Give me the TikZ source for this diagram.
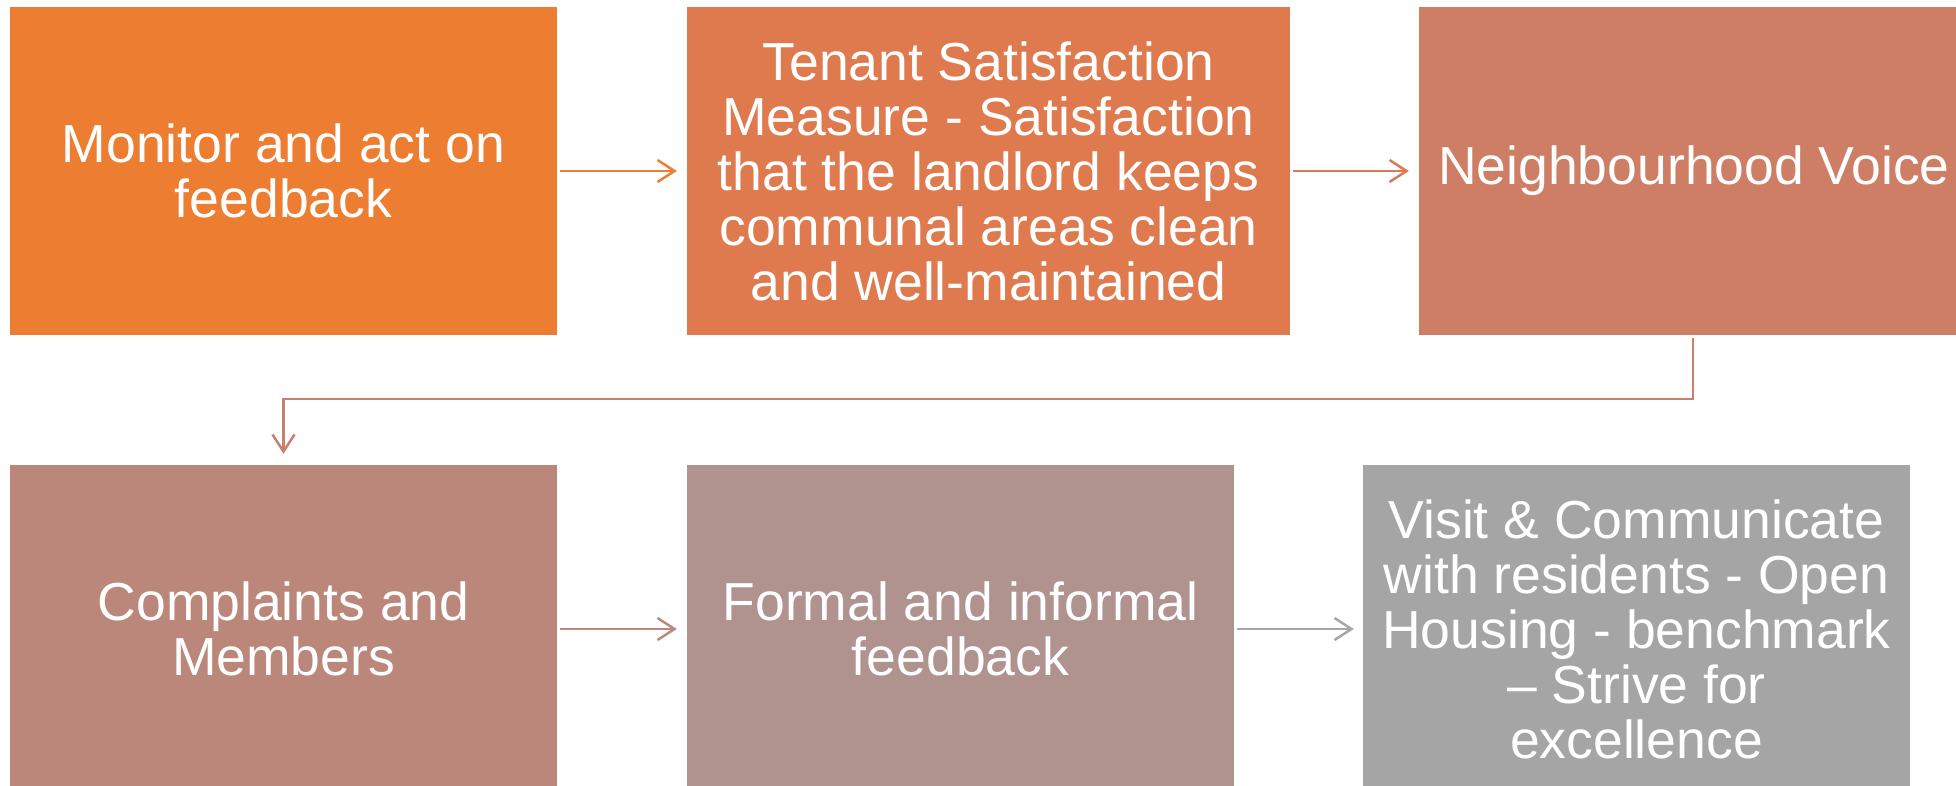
\documentclass[tikz,border=0pt]{standalone}
\usepackage{fontspec}
\setmainfont{Liberation Sans}
\usetikzlibrary{arrows.meta}
\definecolor{cA}{HTML}{ED7D31}
\definecolor{cB}{HTML}{DE7A4E}
\definecolor{cC}{HTML}{CE7E65}
\definecolor{cD}{HTML}{BC877B}
\definecolor{cE}{HTML}{B0928F}
\definecolor{cF}{HTML}{A5A5A5}
\definecolor{aA}{HTML}{EE7E32}
\definecolor{aB}{HTML}{D87C58}
\definecolor{aC}{HTML}{C8806F}
\definecolor{aD}{HTML}{BA8A80}
\definecolor{aE}{HTML}{ABA5A5}
\tikzset{
  box/.style={rectangle, inner sep=0pt, text=white, align=center,
    minimum height=328pt, font=\fontsize{53.5}{55}\selectfont},
  arr/.style={line width=2.5pt, -{Straight Barb[length=17pt,width=22pt,line width=2.5pt]}}
}
\begin{document}
\begin{tikzpicture}[x=1pt,y=-1pt]
\useasboundingbox (0,0) rectangle (1956,786);
\fill[white] (0,0) rectangle (1956,786);
\begin{scope}
\clip (0,0) rectangle (1956,786);
\node[box, fill=cA, minimum width=547pt] (b1) at (283.5,171) {Monitor and act on\\feedback};
\node[box, fill=cB, minimum width=603pt] (b2) at (988.5,171) {Tenant Satisfaction\\Measure - Satisfaction\\that the landlord keeps\\communal areas clean\\and well-maintained};
\node[box, fill=cC, minimum width=550pt] (b3) at (1694,171) {Neighbourhood Voice};
\node[box, fill=cD, minimum width=547pt] (b4) at (283.5,629) {Complaints and\\Members};
\node[box, fill=cE, minimum width=547pt] (b5) at (960.5,629) {Formal and informal\\feedback};
\node[box, fill=cF, minimum width=547pt] (b6) at (1636.5,629) {Visit \& Communicate\\with residents - Open\\Housing - benchmark\\\textendash{} Strive for\\excellence};
\end{scope}
\coordinate (k) at (1693,399);
\draw[arr, draw=aA] ([xshift=3pt]b1.east) -- ([xshift=-10pt]b2.west);
\draw[arr, draw=aB] ([xshift=3pt]b2.east) -- ([xshift=-10pt]b3.west);
\draw[arr, draw=aC] ([yshift=-3pt]b3.south -| k) -- (k) -| ([yshift=11pt]b4.north);
\draw[arr, draw=aD] ([xshift=3pt]b4.east) -- ([xshift=-10pt]b5.west);
\draw[arr, draw=aE] ([xshift=3pt]b5.east) -- ([xshift=-9pt]b6.west);
\end{tikzpicture}
\end{document}
